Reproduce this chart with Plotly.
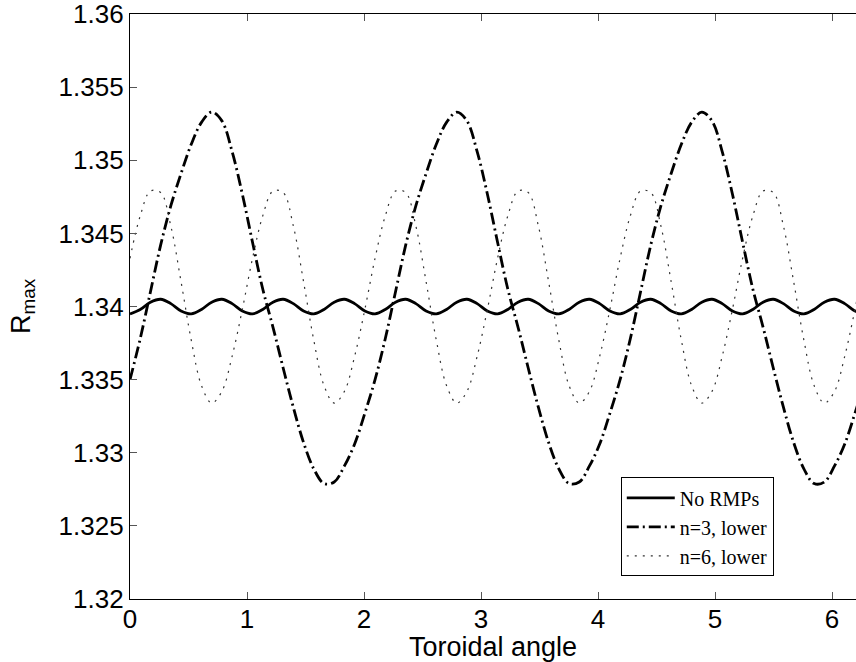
import plotly.graph_objects as go

# Toroidal angle sample positions (rad)
angle = [0.0000, 0.0873, 0.1745, 0.2618, 0.3491, 0.4363, 0.5236, 0.6109, 0.6981, 0.7854,
         0.8727, 0.9599, 1.0472, 1.1345, 1.2217, 1.3090, 1.3963, 1.4835, 1.5708, 1.6581,
         1.7453, 1.8326, 1.9199, 2.0071, 2.0944, 2.1817, 2.2689, 2.3562, 2.4435, 2.5307,
         2.6180, 2.7053, 2.7925, 2.8798, 2.9671, 3.0543, 3.1416, 3.2289, 3.3161, 3.4034,
         3.4907, 3.5779, 3.6652, 3.7525, 3.8397, 3.9270, 4.0143, 4.1015, 4.1888, 4.2761,
         4.3633, 4.4506, 4.5379, 4.6251, 4.7124, 4.7997, 4.8869, 4.9742, 5.0615, 5.1487,
         5.2360, 5.3233, 5.4105, 5.4978, 5.5851, 5.6723, 5.7596, 5.8469, 5.9341, 6.0214,
         6.1087, 6.1959, 6.2832]

no_rmps = [1.3395, 1.3398, 1.3403, 1.3405, 1.3402, 1.3397,
           1.3395, 1.3398, 1.3403, 1.3405, 1.3402, 1.3397,
           1.3395, 1.3398, 1.3403, 1.3405, 1.3402, 1.3397,
           1.3395, 1.3398, 1.3403, 1.3405, 1.3402, 1.3397,
           1.3395, 1.3398, 1.3403, 1.3405, 1.3402, 1.3397,
           1.3395, 1.3398, 1.3403, 1.3405, 1.3402, 1.3397,
           1.3395, 1.3398, 1.3403, 1.3405, 1.3402, 1.3397,
           1.3395, 1.3398, 1.3403, 1.3405, 1.3402, 1.3397,
           1.3395, 1.3398, 1.3403, 1.3405, 1.3402, 1.3397,
           1.3395, 1.3398, 1.3403, 1.3405, 1.3402, 1.3397,
           1.3395, 1.3398, 1.3403, 1.3405, 1.3402, 1.3397,
           1.3395, 1.3398, 1.3403, 1.3405, 1.3402, 1.3397,
           1.3395]

n3_lower = [1.3350, 1.3378, 1.3410, 1.3442, 1.3469, 1.3491, 1.3511, 1.3526, 1.3533, 1.3527,
            1.3506, 1.3477, 1.3444, 1.3412, 1.3386, 1.3358, 1.3331, 1.3307, 1.3289, 1.3279,
            1.3280, 1.3291, 1.3306, 1.3327,
            1.3350, 1.3378, 1.3410, 1.3442, 1.3469, 1.3491, 1.3511, 1.3526, 1.3533, 1.3527,
            1.3506, 1.3477, 1.3444, 1.3412, 1.3386, 1.3358, 1.3331, 1.3307, 1.3289, 1.3279,
            1.3280, 1.3291, 1.3306, 1.3327,
            1.3350, 1.3378, 1.3410, 1.3442, 1.3469, 1.3491, 1.3511, 1.3526, 1.3533, 1.3527,
            1.3506, 1.3477, 1.3444, 1.3412, 1.3386, 1.3358, 1.3331, 1.3307, 1.3289, 1.3279,
            1.3280, 1.3291, 1.3306, 1.3327,
            1.3350]

n6_lower = [1.3433, 1.3462, 1.3479, 1.3478, 1.3455, 1.3417, 1.3377, 1.3346, 1.3334, 1.3342, 1.3366, 1.3398,
            1.3433, 1.3462, 1.3479, 1.3478, 1.3455, 1.3417, 1.3377, 1.3346, 1.3334, 1.3342, 1.3366, 1.3398,
            1.3433, 1.3462, 1.3479, 1.3478, 1.3455, 1.3417, 1.3377, 1.3346, 1.3334, 1.3342, 1.3366, 1.3398,
            1.3433, 1.3462, 1.3479, 1.3478, 1.3455, 1.3417, 1.3377, 1.3346, 1.3334, 1.3342, 1.3366, 1.3398,
            1.3433, 1.3462, 1.3479, 1.3478, 1.3455, 1.3417, 1.3377, 1.3346, 1.3334, 1.3342, 1.3366, 1.3398,
            1.3433, 1.3462, 1.3479, 1.3478, 1.3455, 1.3417, 1.3377, 1.3346, 1.3334, 1.3342, 1.3366, 1.3398,
            1.3433]

series_names = ["No RMPs", "n=3, lower", "n=6, lower"]

x_ticks = [0, 1, 2, 3, 4, 5, 6]
x_tick_labels = ["0", "1", "2", "3", "4", "5", "6"]
y_ticks = [1.32, 1.325, 1.33, 1.335, 1.34, 1.345, 1.35, 1.355, 1.36]
y_tick_labels = ["1.32", "1.325", "1.33", "1.335", "1.34", "1.345", "1.35", "1.355", "1.36"]

fig = go.Figure()
fig.add_trace(go.Scatter(x=angle, y=no_rmps, name=series_names[0], mode="lines",
                         line=dict(color="black", width=2.8, shape="spline")))
fig.add_trace(go.Scatter(x=angle, y=n3_lower, name=series_names[1], mode="lines",
                         line=dict(color="black", width=2.8, shape="spline",
                                   dash="12px,4px,2px,4px")))
fig.add_trace(go.Scatter(x=angle, y=n6_lower, name=series_names[2], mode="lines",
                         line=dict(color="#333333", width=1.2, shape="spline",
                                   dash="2px,6px")))

tick_font = dict(family="Liberation Sans, Arial, sans-serif", size=26, color="black")
title_font = dict(family="Liberation Sans, Arial, sans-serif", size=27, color="black")

fig.update_layout(
    width=856, height=662,
    margin=dict(l=130, r=0, t=14, b=63),
    paper_bgcolor="white", plot_bgcolor="white",
    showlegend=True,
    legend=dict(x=0.676, y=0.208, xanchor="left", yanchor="top",
                bgcolor="white", bordercolor="black", borderwidth=1,
                itemwidth=48,
                font=dict(family="Liberation Serif, Times New Roman, serif", size=20, color="black"),
                tracegroupgap=0),
    xaxis=dict(range=[0, 6.205], tickvals=x_ticks, ticktext=x_tick_labels,
               ticks="inside", ticklen=7, tickwidth=1, tickcolor="#555555",
               showline=True, linecolor="black", linewidth=1.2, mirror="ticks",
               showgrid=False, zeroline=False, tickfont=tick_font,
               ticklabeloverflow="allow", ticklabelstandoff=-3,
               title=dict(text="Toroidal angle", font=title_font, standoff=0)),
    yaxis=dict(range=[1.32, 1.36001], tickvals=y_ticks, ticktext=y_tick_labels,
               ticks="inside", ticklen=7, tickwidth=1, tickcolor="#555555",
               showline=True, linecolor="black", linewidth=1.2, mirror=False,
               showgrid=False, zeroline=False, tickfont=tick_font,
               ticklabeloverflow="allow",
               title=dict(text="R<sub>max</sub>", font=title_font, standoff=20)),
)

fig.write_html("out.html", config={"displayModeBar": False},
               post_script="document.body.style.margin='0';document.body.style.overflow='hidden';")
